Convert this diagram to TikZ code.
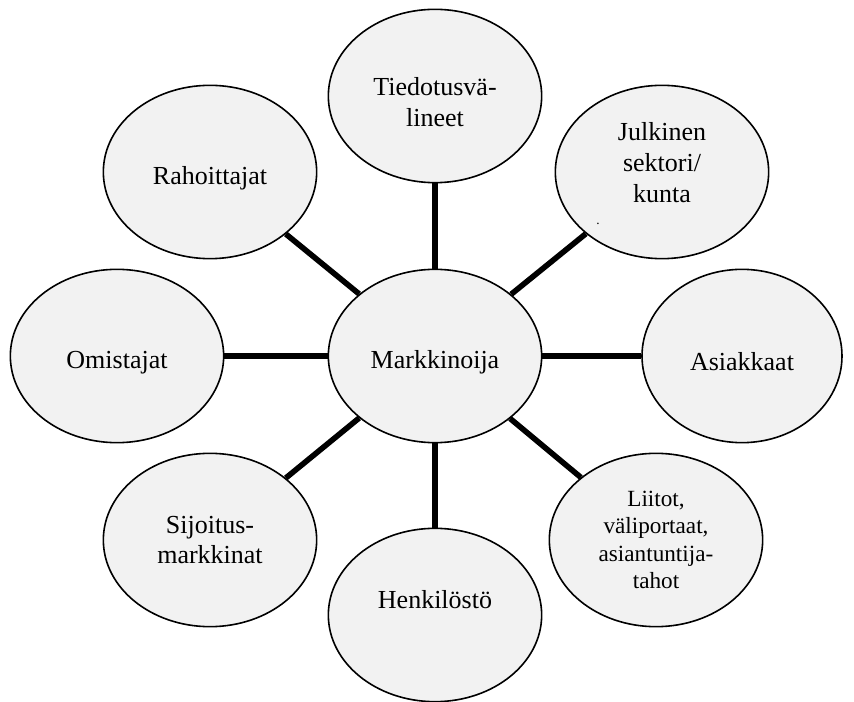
\documentclass[tikz,border=0pt]{standalone}
\usepackage{fontspec}
\setmainfont{Liberation Serif}
\usetikzlibrary{shapes.geometric}
\definecolor{ellgray}{RGB}{242,242,242}
\newcommand{\dropline}{\rule{0pt}{22.5pt}}
\begin{document}
\begin{tikzpicture}[x=0.75pt,y=-0.75pt,
    party/.style={ellipse,draw,line width=1.2pt,fill=ellgray,
      minimum width=160pt,minimum height=130pt,inner sep=0pt,align=center,
      font=\fontsize{19.5}{23}\selectfont},
    tie/.style={line width=4.2pt}]
  \useasboundingbox (0,0) rectangle (854,702);
  \node[party] (mark) at (435,356) {\dropline Markkinoija};
  \node[party] (tied) at (435,96) {\dropline Tiedotusvä-\\lineet};
  \node[party] (julk) at (662,172) {\dropline Julkinen\\sektori/\\kunta\\~};
  \node[inner sep=0pt] (dot) at (598,224) {.};
  \node[party] (raho) at (210,172) {\dropline Rahoittajat};
  \node[party] (omis) at (117,356) {\dropline Omistajat};
  \node[party,minimum width=150pt] (asia) at (742,356) {\dropline Asiakkaat};
  \node[party] (sijo) at (210,540) {Sijoitus-\\markkinat};
  \node[party] (henk) at (435,615) {Henkilöstö\\~};
  \node[party,font=\fontsize{17.4}{20.6}\selectfont] (liit) at (656,540)
    {Liitot,\\väliportaat,\\asiantuntija-\\tahot};
  \foreach \o in {tied,julk,raho,omis,asia,sijo,henk,liit}
    \draw[tie] (mark) -- (\o);
\end{tikzpicture}
\end{document}
